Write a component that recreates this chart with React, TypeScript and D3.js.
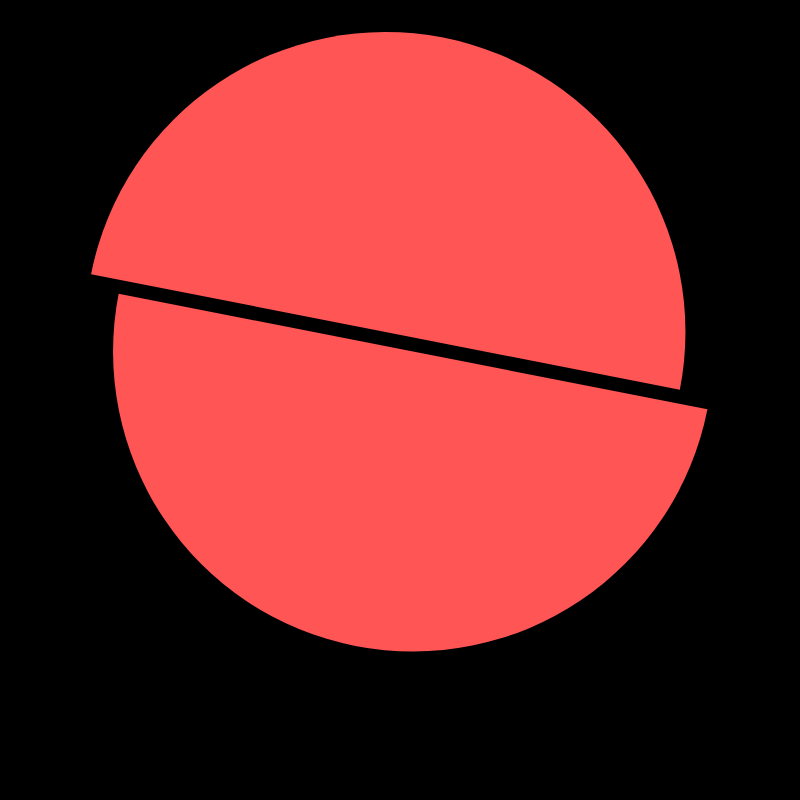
import { useEffect, useRef } from 'react';
import * as d3 from 'd3';

const SLICE_LABELS = ['A', 'B'];
const SLICE_VALUES = [50, 50];
const SLICE_COLORS = ['#FF5555', '#FF5555'];

export default function App() {
  const svgRef = useRef<SVGSVGElement>(null);

  useEffect(() => {
    const el = svgRef.current;
    if (!el) return;
    const svg = d3.select(el);
    svg.selectAll('*').remove();

    const W = 800;
    const H = 800;
    svg.attr('width', W).attr('height', H);

    svg.append('rect').attr('width', W).attr('height', H).attr('fill', '#000');

    const cx = 399.25;
    const cy = 341.75;
    const radius = 300;
    const explode = 16.9;
    // explode direction is skewed from the slice bisector in the source
    const skew = (-65.8 * Math.PI) / 180;
    const start = (101.1 * Math.PI) / 180;

    const data = SLICE_LABELS.map((label, i) => ({ label, value: SLICE_VALUES[i], color: SLICE_COLORS[i] }));

    const pie = d3.pie<{ label: string; value: number; color: string }>()
      .sort(null)
      .value((d) => d.value)
      .startAngle(start)
      .endAngle(start + Math.PI * 2);

    const arc = d3.arc<d3.PieArcDatum<{ label: string; value: number; color: string }>>()
      .innerRadius(0)
      .outerRadius(radius);

    const g = svg.append('g').attr('transform', `translate(${cx},${cy})`);

    g.selectAll('path')
      .data(pie(data))
      .join('path')
      .attr('d', arc)
      .attr('fill', (d) => d.data.color)
      .attr('transform', (d) => {
        const a = (d.startAngle + d.endAngle) / 2 + skew;
        return `translate(${Math.sin(a) * explode},${-Math.cos(a) * explode})`;
      });
  }, []);

  return (
    <div style={{ position: 'fixed', left: 0, top: 0, width: 800, height: 800, background: '#000' }}>
      <svg ref={svgRef} style={{ display: 'block' }} />
    </div>
  );
}
